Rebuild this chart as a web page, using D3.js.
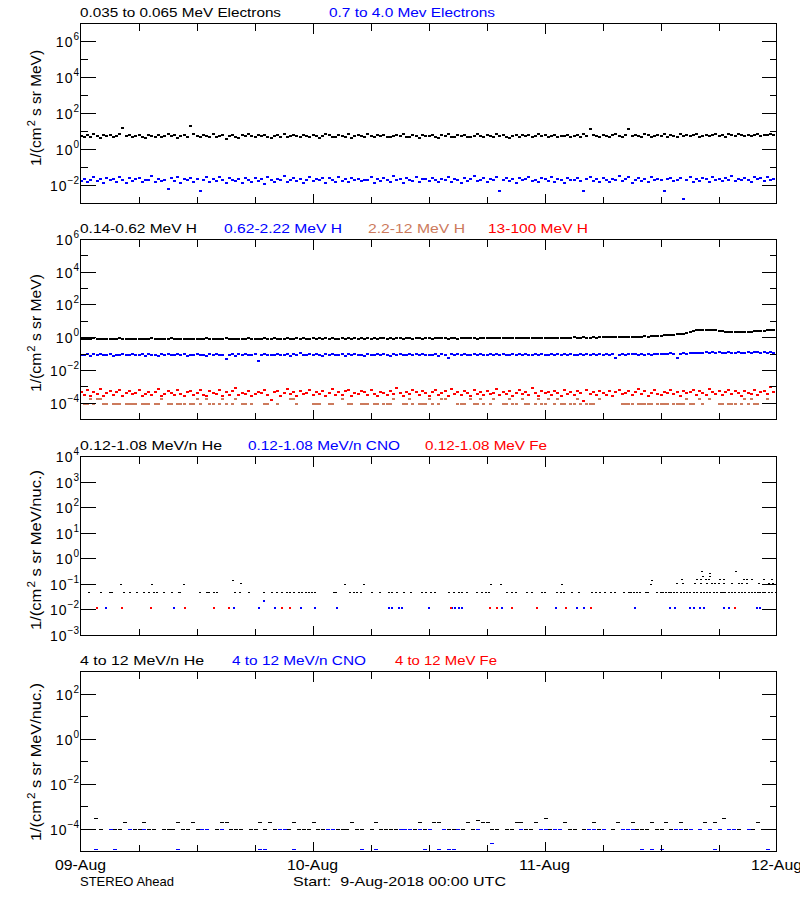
<!DOCTYPE html>
<html><head><meta charset="utf-8">
<script src="https://cdn.jsdelivr.net/npm/d3@7"></script>
<style>
body{margin:0;background:#fff}
svg{display:block}
text{font-family:"Liberation Sans",Arial,sans-serif;fill:#000}
</style>
</head><body>
<svg id="c" width="800" height="900"></svg>
<script>
// ---------- time base ----------
const START = Date.UTC(2018, 7, 9);        // 09-Aug-2018 00:00 UTC
const DAYS = 3;
const dayLabels = ['09-Aug', '10-Aug', '11-Aug', '12-Aug'];
const footLeft = 'STEREO Ahead';
const footRight = 'Start:  9-Aug-2018 00:00 UTC';

// ---------- panel 1 : electrons (20-min samples) ----------
const eLowName = '0.035 to 0.065 MeV Electrons';
const eHighName = '0.7 to 4.0 Mev Electrons';
const eLow = [
5.6,4.8,6.3,5.1,7.0,5.4,4.6,6.1,5.8,6.6,4.9,5.3,7.2,16,5.5,6.0,4.7,5.9,
6.4,5.2,4.5,6.8,5.7,5.0,6.2,4.8,5.6,7.4,5.3,6.0,4.4,5.8,6.5,5.1,19,6.9,
5.4,4.7,6.1,5.9,5.2,7.1,4.9,5.5,6.3,3.9,5.7,6.6,5.0,4.6,6.0,5.3,7.3,5.8,
4.8,6.2,5.5,6.7,5.1,4.5,5.9,6.4,5.2,7.0,4.9,5.6,6.1,5.3,4.7,6.8,5.5,5.0,
6.3,5.8,4.6,5.4,7.2,6.0,5.1,4.8,6.5,5.7,5.2,6.9,4.4,5.9,6.2,5.3,5.0,7.5,
5.6,4.9,6.0,5.4,6.6,5.1,4.7,5.8,6.3,5.5,7.1,4.8,5.2,6.1,5.9,4.5,6.4,5.3,
5.7,6.8,5.0,4.6,6.2,5.5,7.3,5.2,4.9,6.0,5.8,6.5,5.1,4.7,5.6,6.9,5.3,5.0,
6.1,5.4,4.8,7.0,5.9,6.3,5.2,4.6,5.7,6.6,5.0,6.4,5.5,6.2,4.9,5.8,7.4,5.3,
6.0,4.7,5.6,6.4,5.1,5.9,5.4,6.7,4.8,5.9,6.1,5.2,7.2,5.5,13,6.3,5.8,5.0,
6.5,5.3,4.9,6.0,7.1,5.6,5.2,6.8,14,5.9,6.2,5.4,5.1,7.3,6.0,4.8,5.7,6.6,
5.5,6.9,5.0,6.1,5.8,4.9,7.0,5.6,6.4,5.3,6.0,7.5,5.2,5.9,6.7,5.4,6.2,7.1,
5.8,6.5,5.1,6.9,6.0,5.6,7.2,6.3,5.5,6.8,5.9,6.1,7.4,5.7,6.6,6.0,7.0,6.4];
const eHigh = [
.018,.024,.015,.021,.028,.017,.022,.013,.026,.019,.023,.016,.030,.020,.014,.025,.018,.022,
.027,.016,.021,.019,.033,.015,.024,.018,.020,.006,.025,.017,.029,.014,.022,.019,.026,.016,
.023,.005,.020,.028,.015,.024,.018,.031,.021,.013,.026,.019,.017,.023,.014,.027,.020,.016,
.025,.018,.022,.012,.029,.020,.016,.024,.019,.034,.015,.021,.026,.017,.023,.014,.020,.028,
.017,.022,.019,.025,.013,.027,.021,.016,.030,.018,.023,.015,.026,.020,.024,.017,.021,.019,
.029,.014,.022,.018,.026,.020,.016,.032,.019,.023,.013,.025,.021,.017,.028,.015,.022,.024,
.018,.027,.020,.015,.023,.019,.030,.016,.024,.021,.014,.026,.018,.022,.033,.017,.020,.025,
.016,.023,.019,.028,.005,.021,.025,.017,.022,.014,.027,.019,.024,.031,.018,.020,.015,.026,
.022,.018,.029,.016,.024,.020,.013,.027,.021,.019,.025,.017,.005,.023,.030,.018,.022,.016,
.026,.020,.015,.024,.019,.032,.017,.022,.028,.014,.021,.025,.018,.023,.016,.029,.020,.024,
.019,.005,.023,.027,.017,.021,.025,.0017,.020,.030,.016,.024,.018,.026,.022,.015,.028,.021,
.024,.018,.027,.020,.033,.017,.023,.019,.026,.021,.016,.029,.022,.025,.018,.031,.020,.024];

// ---------- panel 2 : protons (20-min samples) ----------
const hNames = ['0.14-0.62 MeV H', '0.62-2.22 MeV H', '2.2-12 MeV H', '13-100 MeV H'];
const h1 = [
.86,.82,.88,.84,.90,.83,.87,.85,.81,.89,.84,.86,.92,.83,.85,.88,.82,.87,
.84,.89,.83,.86,.91,.85,.82,.88,.86,.84,.90,.83,.87,.85,.81,.88,.86,.84,
.89,.83,.86,.92,.84,.87,.82,.88,.85,.90,.84,.86,.83,.89,.87,.85,.91,.84,
.86,.88,.83,.90,.85,.87,.92,.84,.89,.86,.91,.85,.88,.93,.86,.90,.87,.89,
.92,.87,.90,.85,.91,.88,.94,.86,.89,.92,.87,.90,.88,.93,.86,.91,.89,.94,
.88,.92,.87,.90,.95,.89,.91,.86,.93,.90,.88,.94,.91,.87,.92,.95,.89,.91,
.93,.88,.91,.96,.90,.92,.89,.94,.91,.87,.93,.95,.90,.92,.96,.89,.93,.91,
.94,.90,.97,.92,.95,.91,.93,.98,.92,.95,.90,.96,.93,.99,.94,.92,.97,.95,
.98,.94,1.00,.96,.99,1.02,.97,1.01,.98,1.03,1.00,.97,1.04,1.01,.99,1.05,1.02,1.06,
1.03,1.07,1.04,1.09,1.06,1.11,1.08,1.13,1.10,1.15,1.12,1.18,1.14,1.20,1.17,1.23,1.26,1.30,
1.33,1.38,1.42,1.47,1.52,1.60,1.68,1.78,1.92,2.15,2.45,2.75,2.95,3.05,3.10,2.98,3.08,2.90,
2.55,2.40,2.30,2.25,2.32,2.20,2.28,2.18,2.24,2.15,2.35,2.42,2.50,2.62,2.58,2.75,2.85,2.92];
const h2 = [
.092,.085,.098,.080,.094,.088,.102,.083,.090,.096,.079,.093,.087,.099,.084,.091,.097,.082,
.089,.095,.081,.100,.086,.092,.078,.094,.088,.103,.083,.090,.096,.085,.099,.080,.093,.087,
.097,.084,.091,.079,.095,.088,.101,.082,.093,.047,.086,.098,.081,.094,.089,.104,.083,.090,
.095,.037,.087,.099,.082,.093,.088,.106,.084,.091,.097,.080,.094,.089,.110,.085,.092,.098,
.083,.096,.090,.078,.094,.087,.101,.084,.092,.099,.081,.095,.088,.107,.086,.093,.080,.097,
.091,.085,.100,.083,.096,.089,.079,.094,.088,.103,.082,.092,.098,.086,.095,.090,.104,.084,
.093,.087,.099,.081,.096,.090,.055,.094,.088,.102,.085,.097,.091,.083,.096,.089,.105,.086,
.092,.098,.084,.095,.089,.101,.083,.093,.097,.087,.094,.090,.106,.085,.092,.099,.088,.095,
.091,.084,.097,.090,.103,.086,.094,.088,.099,.093,.085,.096,.091,.104,.089,.095,.087,.098,
.093,.100,.088,.096,.055,.092,.101,.087,.097,.094,.105,.090,.098,.093,.102,.089,.099,.096,
.104,.095,.101,.108,.097,.055,.106,.112,.103,.118,.109,.124,.115,.121,.132,.118,.126,.113,
.129,.120,.117,.127,.114,.124,.131,.119,.122,.128,.116,.125,.133,.121,.126,.118,.130,.123];
const h3 = [
0,8.4e-5,8.4e-5,1.8e-4,8.4e-5,1.8e-4,1.8e-4,8.4e-5,8.4e-5,0,8.4e-5,8.4e-5,8.4e-5,0,8.4e-5,8.4e-5,8.4e-5,8.4e-5,
0,8.4e-5,8.4e-5,8.4e-5,0,8.4e-5,8.4e-5,1.8e-4,0,8.4e-5,8.4e-5,0,8.4e-5,8.4e-5,8.4e-5,0,8.4e-5,8.4e-5,
1.8e-4,8.4e-5,0,1.8e-4,8.4e-5,8.4e-5,0,8.4e-5,1.8e-4,8.4e-5,0,8.4e-5,1.8e-4,0,8.4e-5,8.4e-5,0,8.4e-5,
0,0,0,8.4e-5,8.4e-5,0,0,8.4e-5,0,0,0,1.8e-4,1.8e-4,8.4e-5,0,0,0,0,
8.4e-5,8.4e-5,8.4e-5,0,0,8.4e-5,8.4e-5,0,0,1.8e-4,0,8.4e-5,8.4e-5,0,0,8.4e-5,8.4e-5,8.4e-5,
0,8.4e-5,8.4e-5,0,8.4e-5,8.4e-5,8.4e-5,1.8e-4,0,0,8.4e-5,8.4e-5,1.8e-4,8.4e-5,0,8.4e-5,8.4e-5,8.4e-5,
1.8e-4,8.4e-5,0,8.4e-5,1.8e-4,1.8e-4,0,0,0,8.4e-5,8.4e-5,8.4e-5,0,1.8e-4,8.4e-5,8.4e-5,1.8e-4,8.4e-5,
0,8.4e-5,1.8e-4,0,0,8.4e-5,8.4e-5,1.8e-4,8.4e-5,8.4e-5,0,1.8e-4,8.4e-5,8.4e-5,0,8.4e-5,1.8e-4,8.4e-5,
8.4e-5,1.8e-4,0,8.4e-5,1.8e-4,8.4e-5,8.4e-5,0,8.4e-5,8.4e-5,1.8e-4,8.4e-5,0,8.4e-5,8.4e-5,8.4e-5,0,1.8e-4,
0,0,0,0,0,0,8.4e-5,8.4e-5,8.4e-5,8.4e-5,0,8.4e-5,8.4e-5,8.4e-5,8.4e-5,8.4e-5,0,8.4e-5,
8.4e-5,8.4e-5,8.4e-5,0,8.4e-5,8.4e-5,8.4e-5,8.4e-5,1.8e-4,8.4e-5,8.4e-5,0,1.8e-4,8.4e-5,0,1.8e-4,0,0,
8.4e-5,8.4e-5,0,8.4e-5,8.4e-5,8.4e-5,0,8.4e-5,1.8e-4,8.4e-5,1.8e-4,8.4e-5,8.4e-5,0,0,1.8e-4,0,0];
const h4 = [
4.5e-4,3.2e-4,6.1e-4,2.8e-4,5.0e-4,3.6e-4,7.4e-4,2.9e-4,4.1e-4,5.6e-4,3.0e-4,4.8e-4,6.6e-4,2.7e-4,3.9e-4,5.3e-4,3.4e-4,4.4e-4,
6.0e-4,2.9e-4,3.7e-4,5.1e-4,3.1e-4,4.6e-4,7.0e-4,2.8e-4,3.5e-4,5.5e-4,4.2e-4,3.0e-4,6.3e-4,3.8e-4,2.7e-4,4.9e-4,5.8e-4,3.3e-4,
4.0e-4,6.8e-4,3.1e-4,2.9e-4,5.2e-4,4.3e-4,3.6e-4,6.1e-4,2.8e-4,4.7e-4,3.3e-4,5.7e-4,8.1e-4,3.0e-4,4.4e-4,3.8e-4,5.9e-4,2.7e-4,
3.5e-4,5.0e-4,4.1e-4,6.4e-4,3.2e-4,1.5e-4,4.6e-4,5.4e-4,2.9e-4,3.9e-4,6.9e-4,3.4e-4,4.8e-4,2.8e-4,5.6e-4,3.7e-4,4.3e-4,6.2e-4,
3.0e-4,4.9e-4,3.6e-4,5.8e-4,2.7e-4,4.2e-4,7.2e-4,3.3e-4,4.5e-4,3.1e-4,5.3e-4,6.5e-4,2.9e-4,4.0e-4,3.5e-4,5.9e-4,4.7e-4,3.2e-4,
6.7e-4,3.8e-4,2.8e-4,5.1e-4,4.4e-4,3.0e-4,5.7e-4,3.6e-4,9.0e-4,4.1e-4,2.9e-4,5.0e-4,3.4e-4,6.3e-4,4.6e-4,3.1e-4,5.5e-4,3.9e-4,
2.8e-4,4.8e-4,6.0e-4,3.3e-4,4.2e-4,5.4e-4,2.9e-4,7.6e-4,3.7e-4,4.5e-4,3.1e-4,5.8e-4,4.0e-4,2.7e-4,6.4e-4,3.5e-4,4.9e-4,3.2e-4,
5.2e-4,3.8e-4,4.4e-4,6.9e-4,3.0e-4,4.7e-4,3.4e-4,5.6e-4,2.8e-4,4.1e-4,6.2e-4,3.6e-4,5.0e-4,3.2e-4,8.4e-4,4.3e-4,2.9e-4,5.5e-4,
3.9e-4,4.6e-4,3.1e-4,5.9e-4,4.0e-4,2.8e-4,6.6e-4,3.5e-4,4.8e-4,3.3e-4,5.3e-4,4.2e-4,1.3e-4,6.1e-4,3.7e-4,4.5e-4,3.0e-4,5.7e-4,
4.3e-4,3.2e-4,5.8e-4,2.9e-4,4.9e-4,6.4e-4,3.6e-4,4.1e-4,5.2e-4,3.0e-4,4.6e-4,7.3e-4,3.4e-4,5.6e-4,2.8e-4,4.4e-4,6.0e-4,3.8e-4,
3.1e-4,5.0e-4,4.2e-4,6.7e-4,3.5e-4,4.8e-4,2.9e-4,5.4e-4,3.9e-4,4.5e-4,6.2e-4,3.2e-4,5.9e-4,4.0e-4,3.3e-4,7.0e-4,4.6e-4,3.6e-4,
5.5e-4,3.0e-4,4.7e-4,6.1e-4,3.4e-4,5.2e-4,4.0e-4,2.8e-4,5.8e-4,4.4e-4,3.7e-4,6.6e-4,3.1e-4,4.9e-4,5.6e-4,3.5e-4,9.5e-4,4.8e-4];

// ---------- panel 3 : 0.12-1.08 MeV/n heavy ions ([hour, flux]) ----------
const p3Names = ['0.12-1.08 MeV/n He', '0.12-1.08 MeV/n CNO', '0.12-1.08 MeV Fe'];
const he3 = [
[0.86,.051],[2.07,.051],[3.10,.051],[3.28,.051],[4.48,.051],[5.17,.051],[5.86,.051],[6.55,.051],[7.07,.051],[7.59,.051],
[7.93,.051],[8.62,.051],[9.48,.051],[10.17,.051],[10.34,.051],[12.41,.051],[13.1,.051],[13.28,.051],[13.79,.051],[14.14,.051],
[16.03,.051],[16.55,.051],[17.41,.051],[18.97,.051],[19.83,.051],[20.34,.051],[20.86,.051],[21.38,.051],[21.72,.051],[22.07,.051],
[22.59,.051],[22.93,.051],[23.28,.051],[23.62,.051],[23.97,.051],[24.31,.051],[26.2,.051],[26.38,.051],[27.93,.051],[28.28,.051],
[28.62,.051],[28.97,.051],[30.17,.051],[31.03,.051],[31.9,.051],[32.24,.051],[32.76,.051],[33.45,.051],[34.14,.051],[35.34,.051],
[35.69,.051],[36.21,.051],[36.72,.051],[38.1,.051],[38.62,.051],[39.14,.051],[39.48,.051],[40.0,.051],[41.03,.051],[41.55,.051],
[41.9,.051],[42.24,.051],[44.14,.051],[44.66,.051],[45.0,.051],[46.21,.051],[46.72,.051],[47.76,.051],[48.1,.051],[49.31,.051],
[49.66,.051],[50.0,.051],[50.86,.051],[51.55,.051],[52.93,.051],[53.28,.051],[53.79,.051],[54.31,.051],[54.83,.051],[55.34,.051],
[56.21,.051],[56.72,.051],[56.9,.051],[57.24,.051],[57.59,.051],[57.9,.051],[58.45,.051],[58.7,.051],[59.66,.051],[60.0,.051],
[60.3,.051],[60.6,.051],[60.9,.051],[61.1,.051],[61.38,.051],[61.72,.051],[62.07,.051],[62.41,.051],[62.76,.051],[63.1,.051],
[63.45,.051],[63.79,.051],[64.14,.051],[64.5,.051],[64.8,.051],[65.1,.051],[65.52,.051],[65.86,.051],[66.21,.051],[66.5,.051],
[66.72,.051],[67.07,.051],[67.41,.051],[67.7,.051],[68.1,.051],[68.45,.051],[68.79,.051],[69.14,.051],[69.48,.051],[69.8,.051],
[70.1,.051],[70.34,.051],[70.6,.051],[70.86,.051],[71.21,.051],[71.5,.051],[71.9,.051],
[4.21,.1],[7.41,.1],[10.69,.1],[15.79,.15],[16.62,.11],[27.41,.1],[29.31,.1],[42.48,.1],[43.45,.1],[49.76,.1],
[58.97,.1],[59.14,.15],[61.73,.11],[62.24,.16],[62.34,.11],[63.62,.11],[63.8,.16],[64.14,.11],[64.14,.16],[64.31,.32],
[64.41,.22],[64.66,.16],[64.83,.11],[65.0,.16],[65.1,.27],[65.17,.22],[65.3,.11],[65.6,.11],[66.03,.11],[66.2,.16],
[66.55,.11],[66.55,.16],[67.41,.11],[67.76,.32],[68.1,.11],[68.45,.11],[68.62,.16],[68.97,.11],[68.97,.16],[69.48,.16],
[70.17,.11],[70.69,.16],[71.2,.11],[71.55,.16],[71.66,.11]];
const cno3 = [
[2.59,.0115],[9.66,.0115],[15.86,.0115],[18.45,.0115],[18.97,.023],[20.17,.0115],[22.76,.0115],[24.31,.0115],[26.55,.0115],
[31.9,.0115],[32.24,.0115],[32.93,.0115],[33.28,.0115],[36.03,.0115],[38.45,.0115],[38.79,.0115],[39.14,.0115],[39.48,.0115],
[43.62,.0115],[49.14,.0115],[51.38,.0115],[52.07,.0115],[57.41,.0115],[60.97,.0115],[61.45,.0115],[63.03,.0115],[63.45,.0115],
[64.07,.0115],[64.55,.0115],[66.55,.0115],[67.07,.0115],[70.0,.0115],[70.28,.0115]];
const fe3 = [
[1.72,.0115],[4.31,.0115],[7.31,.0115],[10.79,.0115],[13.79,.0115],[15.34,.0115],[20.86,.0115],[21.72,.0115],
[38.28,.0115],[42.41,.0115],[43.1,.0115],[44.59,.0115],[47.24,.0115],[50.24,.0115],[52.76,.0115],[67.69,.0115]];

// ---------- panel 4 : 4-12 MeV/n heavy ions (30-min samples, 0 = no point) ----------
const p4Names = ['4 to 12 MeV/n He', '4 to 12 MeV/n CNO', '4 to 12 MeV Fe'];
const he4 = [
1e-4,1e-4,1e-4,3e-4,1e-4,0,1e-4,1e-4,1e-4,2e-4,1e-4,1e-4,
1e-4,2e-4,1e-4,1e-4,0,1e-4,1e-4,1e-4,2e-4,1e-4,1e-4,2e-4,
1e-4,1e-4,1e-4,0,1e-4,2e-4,2e-4,1e-4,1e-4,1e-4,0,1e-4,
1e-4,2e-4,1e-4,2e-4,1e-4,1e-4,1e-4,1e-4,2e-4,1e-4,1e-4,1e-4,
2e-4,1e-4,1e-4,1e-4,0,1e-4,1e-4,1e-4,2e-4,1e-4,1e-4,0,
1e-4,2e-4,1e-4,1e-4,1e-4,1e-4,0,1e-4,1e-4,1e-4,2e-4,1e-4,
1e-4,2e-4,2e-4,1e-4,1e-4,1e-4,1e-4,1e-4,2e-4,1e-4,2.5e-4,2e-4,
2e-4,1e-4,1e-4,0,1e-4,1e-4,2e-4,2e-4,1e-4,1e-4,2e-4,1e-4,
3e-4,1e-4,1e-4,1e-4,2e-4,1e-4,1e-4,0,1e-4,1e-4,2e-4,1e-4,
1e-4,0,1e-4,2e-4,1e-4,1e-4,2e-4,1e-4,1e-4,1e-4,2e-4,1e-4,
1e-4,2e-4,1e-4,1e-4,2e-4,1e-4,1e-4,0,1e-4,2e-4,1e-4,2e-4,
1e-4,3e-4,1e-4,1e-4,1e-4,0,1e-4,1e-4,2e-4,1e-4,1e-4,0];
const cno4 = [
0,0,1e-4,1.3e-5,0,0,1e-4,1.3e-5,0,0,1e-4,0,
0,1e-4,0,0,0,0,0,0,1.3e-5,0,0,0,
0,1e-4,1e-4,0,0,1e-4,0,0,0,0,0,0,
0,1.3e-5,1.3e-5,0,0,1e-4,1e-4,0,1.3e-5,0,0,0,
0,0,0,1e-4,1e-4,0,0,0,0,0,1.3e-5,0,
0,1.3e-5,0,0,0,0,1e-4,1e-4,1e-4,0,1e-4,1.3e-5,
1e-4,0,1.3e-5,1e-4,1.3e-5,1.3e-5,1e-4,0,0,0,1e-4,0,
0,2.5e-5,0,0,0,0,0,1e-4,0,0,0,1e-4,
1e-4,0,1e-4,1e-4,0,0,0,0,0,1e-4,1e-4,0,
1e-4,0,0,0,1e-4,1e-4,1e-4,0,1.3e-5,0,1.3e-5,0,
1.3e-5,0,0,1e-4,1e-4,0,1e-4,0,1e-4,0,1e-4,1.3e-5,
1e-4,0,1e-4,1e-4,0,0,1e-4,0,0,0,1.3e-5,1e-4];
const fe4 = [];

// ---------- y tick values ----------
const p1Major = [1e-2, 1, 1e2, 1e4, 1e6],         p1Minor = [1e-1, 10, 1e3, 1e5];
const p2Major = [1e-4, 1e-2, 1, 1e2, 1e4, 1e6],   p2Minor = [1e-3, 1e-1, 10, 1e3, 1e5];
const p3Major = [1e-3, 1e-2, 1e-1, 1, 10, 1e2, 1e3, 1e4], p3Minor = [];
const p4Major = [1e-4, 1e-2, 1, 1e2],             p4Minor = [1e-3, 1e-1, 10];

// ---------- layout ----------
const BLACK = '#000000', BLUE = '#0000ff', RED = '#ff0000', BROWN = '#cc7a5c';
const H = 3600e3;
const at20 = i => new Date(START + i * 20 * 60e3);
const at30 = i => new Date(START + i * 30 * 60e3);
const atHr = h => new Date(START + h * H);

const panels = [
  {top: 23, bottom: 203, dom: [1e-3, 1e7], major: p1Major, minor: p1Minor,
   ylab: ['1/(cm', '2', ' s sr MeV)'], ylc: 108, yll: 116,
   titles: [[eLowName, 80, 201, BLACK], [eHighName, 329, 166, BLUE]],
   series: [{d: eLow, at: at20, c: BLACK, w: 3, h: 2}, {d: eHigh, at: at20, c: BLUE, w: 3, h: 2}]},
  {top: 239, bottom: 419, dom: [1e-5, 1e6], major: p2Major, minor: p2Minor,
   ylab: ['1/(cm', '2', ' s sr MeV)'], ylc: 333, yll: 118,
   titles: [[hNames[0], 80, 117, BLACK], [hNames[1], 224, 118, BLUE], [hNames[2], 368, 97, BROWN], [hNames[3], 488, 100, RED]],
   series: [{d: h1, at: at20, c: BLACK, w: 3, h: 2}, {d: h2, at: at20, c: BLUE, w: 3, h: 2},
            {d: h3, at: at20, c: BROWN, w: 3, h: 2}, {d: h4, at: at20, c: RED, w: 3, h: 2}]},
  {top: 456, bottom: 635, dom: [1e-3, 1e4], major: p3Major, minor: p3Minor,
   ylab: ['1/(cm', '2', ' s sr MeV/nuc.)'], ylc: 550, yll: 160,
   titles: [[p3Names[0], 80, 142, BLACK], [p3Names[1], 248, 152, BLUE], [p3Names[2], 425, 122, RED]],
   series: [{p: he3, c: BLACK, w: 2, h: 1}, {p: cno3, c: BLUE, w: 2, h: 2}, {p: fe3, c: RED, w: 2, h: 2}]},
  {top: 671, bottom: 851, dom: [1e-5, 1e3], major: p4Major, minor: p4Minor,
   ylab: ['1/(cm', '2', ' s sr MeV/nuc.)'], ylc: 762, yll: 158,
   titles: [[p4Names[0], 80, 124, BLACK], [p4Names[1], 232, 134, BLUE], [p4Names[2], 395, 102, RED]],
   series: [{d: he4, at: at30, c: BLACK, w: 4, h: 1}, {d: cno4, at: at30, c: BLUE, w: 4, h: 1}, {d: fe4, at: at30, c: RED, w: 4, h: 1}]}
];

const svg = d3.select('#c');
const x = d3.scaleUtc().domain([new Date(START), new Date(START + DAYS * 24 * H)]).range([80.5, 776.5]);
const sixHours = d3.utcHour.every(6).range(new Date(START + 6 * H), new Date(START + DAYS * 24 * H));
const supMinus = n => (n < 0 ? '\u2212' + (-n) : String(n));

panels.forEach(p => {
  const g = svg.append('g');
  const y = d3.scaleLog().domain(p.dom).range([p.bottom + 0.5, p.top + 0.5]);

  // data points
  p.series.forEach(s => {
    const pts = s.p ? s.p.map(([h, v]) => [atHr(h), v]) : s.d.map((v, i) => [s.at(i), v]).filter(d => d[1] > 0);
    g.append('g').attr('shape-rendering', 'crispEdges').selectAll('rect').data(pts).join('rect')
      .attr('x', d => Math.round(x(d[0])) - 1)
      .attr('y', d => Math.round(y(d[1])) - Math.floor(s.h / 2))
      .attr('width', s.w).attr('height', s.h).attr('fill', s.c);
  });

  // frame
  g.append('rect').attr('x', 80.5).attr('y', p.top + 0.5).attr('width', 696).attr('height', p.bottom - p.top)
    .attr('fill', 'none').attr('stroke', '#000').attr('shape-rendering', 'crispEdges');

  const tk = g.append('g').attr('stroke', '#000').attr('shape-rendering', 'crispEdges');
  // y ticks
  const yTick = (v, len) => {
    const yy = Math.floor(y(v)) + 0.5;
    tk.append('line').attr('x1', 80.5).attr('x2', 80.5 + len).attr('y1', yy).attr('y2', yy);
    tk.append('line').attr('x1', 776.5).attr('x2', 776.5 - len).attr('y1', yy).attr('y2', yy);
  };
  p.major.forEach(v => yTick(v, 15));
  p.minor.forEach(v => yTick(v, 7));
  // x ticks
  sixHours.forEach(d => {
    const len = d.getUTCHours() === 0 ? 10 : 7;
    const xx = Math.round(x(d)) + 0.5;
    tk.append('line').attr('x1', xx).attr('x2', xx).attr('y1', p.top + 0.5).attr('y2', p.top + 0.5 + len);
    tk.append('line').attr('x1', xx).attr('x2', xx).attr('y1', p.bottom + 0.5).attr('y2', p.bottom + 0.5 - len);
  });

  // y tick labels
  p.major.forEach(v => {
    const t = g.append('text').attr('x', 79).attr('y', Math.floor(y(v)) + 5.5).attr('text-anchor', 'end');
    t.append('tspan').text('10').attr('font-size', 14).attr('letter-spacing', 1);
    t.append('tspan').text(supMinus(Math.round(Math.log10(v)))).attr('font-size', 10).attr('dy', -7);
  });

  // y label
  const yl = g.append('text').attr('transform', `translate(41,${p.ylc}) rotate(-90)`)
    .attr('text-anchor', 'middle').attr('font-size', 14)
    .attr('textLength', p.yll).attr('lengthAdjust', 'spacingAndGlyphs');
  yl.append('tspan').text(p.ylab[0]);
  yl.append('tspan').text(p.ylab[1]).attr('font-size', 10).attr('dy', -6).attr('dx', 1);
  yl.append('tspan').text(p.ylab[2]).attr('dy', 6);

  // titles
  p.titles.forEach(([txt, tx, tw, col]) => {
    g.append('text').attr('x', tx).attr('y', p.top - 6).attr('font-size', 13)
      .attr('textLength', tw).attr('lengthAdjust', 'spacingAndGlyphs')
      .style('fill', col).text(txt);
  });
});

// day labels along the bottom
dayLabels.forEach((lab, i) => {
  svg.append('text').attr('x', x(new Date(START + i * 24 * H))).attr('y', 870)
    .attr('text-anchor', 'middle').attr('font-size', 14)
    .attr('textLength', 51).attr('lengthAdjust', 'spacingAndGlyphs').text(lab);
});
svg.append('text').attr('x', 80).attr('y', 886).attr('font-size', 13)
  .attr('textLength', 94).attr('lengthAdjust', 'spacingAndGlyphs').text(footLeft);
svg.append('text').attr('x', 293).attr('y', 886).attr('font-size', 13).style('white-space', 'pre')
  .attr('textLength', 213).attr('lengthAdjust', 'spacingAndGlyphs').text(footRight);
</script>
</body></html>
